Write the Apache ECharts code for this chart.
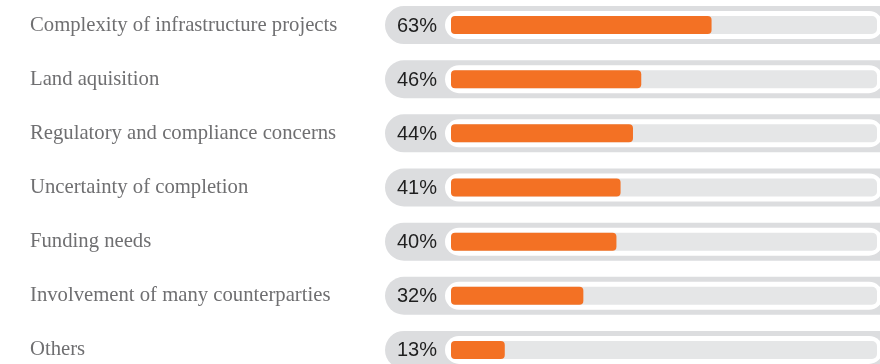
<!DOCTYPE html>
<html>
<head>
<meta charset="utf-8">
<script src="https://cdn.jsdelivr.net/npm/echarts@6/dist/echarts.min.js"></script>
<style>
  html, body { margin: 0; padding: 0; background: #ffffff; overflow: hidden; }
  #chart { width: 880px; height: 379px; position: absolute; left: 0; top: -2px; }
</style>
</head>
<body>
<div id="chart"></div>
<script>
// Survey responses: challenges cited, share of respondents (%)
const categories = [
  'Complexity of infrastructure projects',
  'Land aquisition',
  'Regulatory and compliance concerns',
  'Uncertainty of completion',
  'Funding needs',
  'Involvement of many counterparties',
  'Others'
];
const values = [63, 46, 44, 41, 40, 32, 13];

const AXIS_MAX = 103;

const chart = echarts.init(document.getElementById('chart'), null, { renderer: 'canvas' });

function renderRow(params, api) {
  const cat = api.value(0);
  const v = api.value(1);
  const start = api.coord([0, cat]);
  const end = api.coord([v, cat]);
  const full = api.coord([AXIS_MAX, cat]);
  const y = start[1];
  return {
    type: 'group',
    children: [
      // outer grey pill holding the percentage
      {
        type: 'rect',
        shape: { x: start[0] - 66, y: y - 19, width: full[0] - start[0] + 120, height: 38, r: 19 },
        style: { fill: '#dcdddf' }
      },
      // white inset
      {
        type: 'rect',
        shape: { x: start[0] - 6, y: y - 14, width: full[0] - start[0] + 12, height: 28, r: 14 },
        style: { fill: '#ffffff' }
      },
      // track
      {
        type: 'rect',
        shape: { x: start[0], y: y - 9, width: full[0] - start[0], height: 18, r: 5 },
        style: { fill: '#e5e6e7' }
      },
      // value bar
      {
        type: 'rect',
        shape: { x: start[0], y: y - 9, width: end[0] - start[0], height: 18, r: 4 },
        style: { fill: '#f37124' }
      },
      // percentage text
      {
        type: 'text',
        style: {
          x: start[0] - 54,
          y: y + 1,
          text: v + '%',
          fill: '#1f1f1f',
          font: '20px "Liberation Sans", Arial, sans-serif',
          textAlign: 'left',
          textVerticalAlign: 'middle'
        }
      }
    ]
  };
}

chart.setOption({
  animation: false,
  backgroundColor: '#ffffff',
  grid: { left: 451, top: 0, bottom: 0, right: 3, containLabel: false },
  xAxis: {
    type: 'value',
    min: 0,
    max: AXIS_MAX,
    show: false
  },
  yAxis: {
    type: 'category',
    data: categories,
    inverse: true,
    axisLine: { show: false },
    axisTick: { show: false },
    splitLine: { show: false },
    axisLabel: {
      align: 'left',
      margin: 421,
      fontFamily: '"Liberation Serif", "Times New Roman", serif',
      fontSize: 20.7,
      color: '#6f6f71'
    }
  },
  series: [{
    type: 'custom',
    clip: false,
    renderItem: renderRow,
    encode: { x: 1, y: 0 },
    data: values.map((v, i) => [i, v])
  }]
});
</script>
</body>
</html>
